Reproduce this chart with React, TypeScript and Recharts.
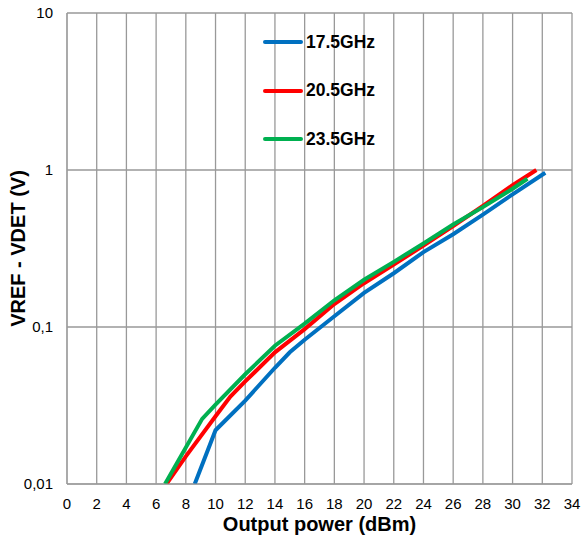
import { LineChart, Line, XAxis, YAxis, CartesianGrid } from 'recharts'

type Pt = { x: number; y: number }

const xTicks = [0, 2, 4, 6, 8, 10, 12, 14, 16, 18, 20, 22, 24, 26, 28, 30, 32, 34]
const yTicks = [0.01, 0.1, 1, 10]

// 17.5GHz
const x175 = [8.6, 10, 12, 14, 15, 16, 18, 20, 22, 24, 26, 28, 30, 32.2]
const y175 = [0.01, 0.022, 0.034, 0.055, 0.069, 0.083, 0.117, 0.165, 0.22, 0.3, 0.39, 0.52, 0.7, 0.96]

// 20.5GHz
const x205 = [6.7, 8, 10, 11, 12, 14, 16, 18, 20, 22, 24, 26, 28, 30, 31.6]
const y205 = [0.01, 0.015, 0.027, 0.036, 0.045, 0.069, 0.097, 0.14, 0.19, 0.25, 0.33, 0.44, 0.59, 0.8, 1.0]

// 23.5GHz
const x235 = [6.6, 9.1, 10, 12, 14, 16, 18, 20, 22, 24, 26, 28, 30, 31]
const y235 = [0.01, 0.026, 0.032, 0.05, 0.076, 0.105, 0.148, 0.2, 0.26, 0.34, 0.45, 0.58, 0.76, 0.88]

const toPts = (xs: number[], ys: number[]): Pt[] => xs.map((x, i) => ({ x, y: ys[i] }))

const series = [
  { name: '17.5GHz', color: '#0070C0', data: toPts(x175, y175) },
  { name: '20.5GHz', color: '#FF0000', data: toPts(x205, y205) },
  { name: '23.5GHz', color: '#00B050', data: toPts(x235, y235) },
]

const fmtY = (v: number) => String(v).replace('.', ',')

const font = 'Liberation Sans, Arial, sans-serif'

function LegendBox() {
  return (
    <div
      style={{
        position: 'absolute',
        left: 263,
        top: 18,
        fontFamily: font,
        fontWeight: 'bold',
        fontSize: 17.5,
        color: '#000',
      }}
    >
      {series.map((s) => (
        <div key={s.name} style={{ display: 'flex', alignItems: 'center', height: 48.5 }}>
          <div style={{ width: 40, height: 4, background: s.color, borderRadius: 2, marginRight: 3 }} />
          <span>{s.name}</span>
        </div>
      ))}
    </div>
  )
}

export default function App() {
  return (
    <div style={{ position: 'absolute', left: 0, top: 0, width: 582, height: 538, background: '#fff' }}>
      <LineChart width={582} height={538} margin={{ top: 13, right: 10, bottom: 0, left: 0 }}>
        <CartesianGrid stroke="#999" strokeWidth={1.3} vertical horizontal />
        <XAxis
          type="number"
          dataKey="x"
          domain={[0, 34]}
          ticks={xTicks}
          interval={0}
          tickLine={false}
          axisLine={{ stroke: '#999' }}
          height={54}
          tickSize={6}
          tickMargin={8}
          tick={{ fill: '#000', fontSize: 15, fontFamily: font }}
          label={{
            value: 'Output power (dBm)',
            position: 'insideBottom',
            offset: 7,
            style: { fill: '#000', fontSize: 20, fontWeight: 'bold', fontFamily: font },
          }}
        />
        <YAxis
          type="number"
          dataKey="y"
          scale="log"
          domain={[0.01, 10]}
          ticks={yTicks}
          interval={0}
          allowDataOverflow
          width={67}
          tickLine={false}
          axisLine={{ stroke: '#999' }}
          tickSize={6}
          tickMargin={8}
          tickFormatter={fmtY}
          tick={{ fill: '#000', fontSize: 15, fontFamily: font }}
          label={{
            value: 'VREF - VDET (V)',
            angle: -90,
            position: 'insideLeft',
            offset: 18,
            style: { fill: '#000', fontSize: 20, fontWeight: 'bold', fontFamily: font, textAnchor: 'middle' },
          }}
        />
        {series.map((s) => (
          <Line
            key={s.name}
            data={s.data}
            dataKey="y"
            name={s.name}
            stroke={s.color}
            strokeWidth={4}
            dot={false}
            type="linear"
            isAnimationActive={false}
          />
        ))}
      </LineChart>
      <LegendBox />
    </div>
  )
}
